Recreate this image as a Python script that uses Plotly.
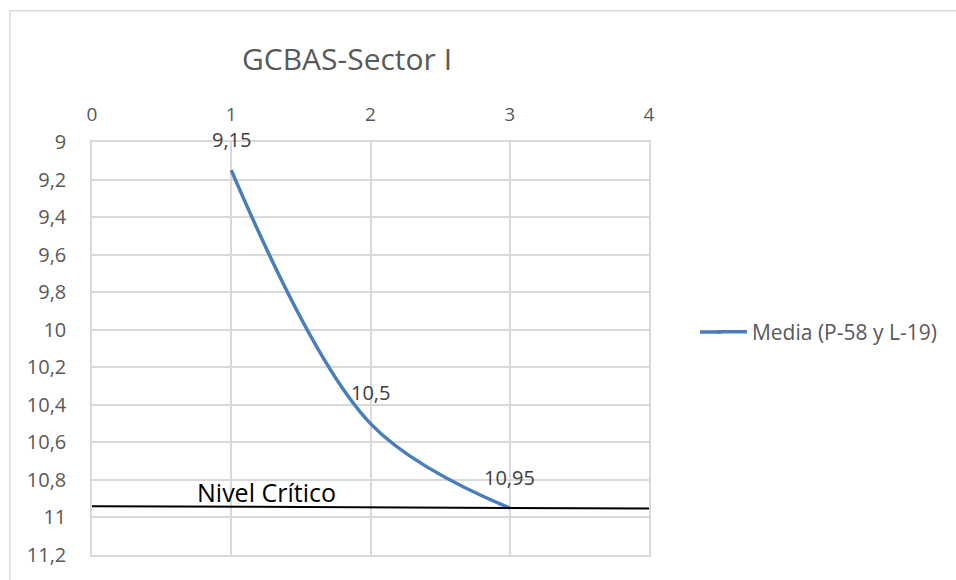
import plotly.graph_objects as go

x_vals = [1, 2, 3]
y_vals = [9.15, 10.5, 10.95]
series_name = "Media (P-58 y L-19)"
title_text = "GCBAS-Sector I"
y_ticks = [9, 9.2, 9.4, 9.6, 9.8, 10, 10.2, 10.4, 10.6, 10.8, 11, 11.2]
x_ticks = [0, 1, 2, 3, 4]
critical_x = [-0.04, 4]
critical_y = [10.94, 10.952]
critical_label = "Nivel Crítico"

LINE_COLOR = "#4a7ebb"

def fmt(v):
    s = ("%g" % v).replace(".", ",")
    return s

fig = go.Figure()
fig.add_trace(go.Scatter(
    x=x_vals, y=y_vals, mode="lines", name=series_name,
    line=dict(color=LINE_COLOR, width=3.5, shape="spline", smoothing=1.0),
    showlegend=True, cliponaxis=False,
))

for xv, yv in zip(x_vals, y_vals):
    fig.add_annotation(x=xv, y=yv, text=fmt(yv), showarrow=False,
                       yshift=31, font=dict(size=20, color="#404040",
                                            family="Open Sans"),
                       xref="x", yref="y")

fig.add_shape(type="line", x0=critical_x[0], x1=critical_x[1],
              y0=critical_y[0], y1=critical_y[1], xref="x", yref="y",
              line=dict(color="black", width=2))
fig.add_annotation(x=1.252, y=10.866, text=critical_label, showarrow=False,
                   xref="x", yref="y", xanchor="center", yanchor="middle",
                   font=dict(size=25, color="black", family="Open Sans"))

# outer chart border
fig.add_shape(type="rect", xref="paper", yref="paper",
              x0=-0.147, x1=1.6, y0=-0.2, y1=1.318,
              line=dict(color="#d9d9d9", width=1.5), fillcolor="rgba(0,0,0,0)")

# extend legend line sample leftwards
fig.add_shape(type="line", xref="paper", yref="paper",
              x0=(700 - 92) / 557, x1=(722 - 92) / 557, y0=0.54, y1=0.54,
              line=dict(color=LINE_COLOR, width=3.5))

fig.update_layout(
    width=956, height=580,
    margin=dict(l=92, r=307, t=142, b=23),
    paper_bgcolor="white", plot_bgcolor="white",
    separators=",.",
    font=dict(family="Open Sans", color="#595959", size=20),
    title=dict(text=title_text, x=0.363, xref="container", xanchor="center",
               y=0.898, yref="container", yanchor="middle",
               font=dict(size=30, color="#595959")),
    legend=dict(x=1.113, y=0.54, xanchor="left", yanchor="middle",
                font=dict(size=21, color="#595959"),
                bgcolor="rgba(0,0,0,0)"),
    showlegend=True,
)
fig.update_xaxes(side="top", range=[0, 4], tickvals=x_ticks,
                 ticktext=[fmt(v) for v in x_ticks],
                 showgrid=True, gridcolor="#d9d9d9", gridwidth=1.5,
                 showline=True, linecolor="#d9d9d9", linewidth=1.5, mirror=True,
                 zeroline=False, ticks="", ticklabelstandoff=12,
                 tickfont=dict(size=19, color="#595959"))
fig.update_yaxes(range=[11.2, 9], tickvals=y_ticks,
                 ticktext=[fmt(v) for v in y_ticks],
                 showgrid=True, gridcolor="#d9d9d9", gridwidth=1.5,
                 showline=True, linecolor="#d9d9d9", linewidth=1.5, mirror=True,
                 zeroline=False, ticks="", ticklabelstandoff=20,
                 tickfont=dict(size=20, color="#595959"))

fig.write_html("out.html")
